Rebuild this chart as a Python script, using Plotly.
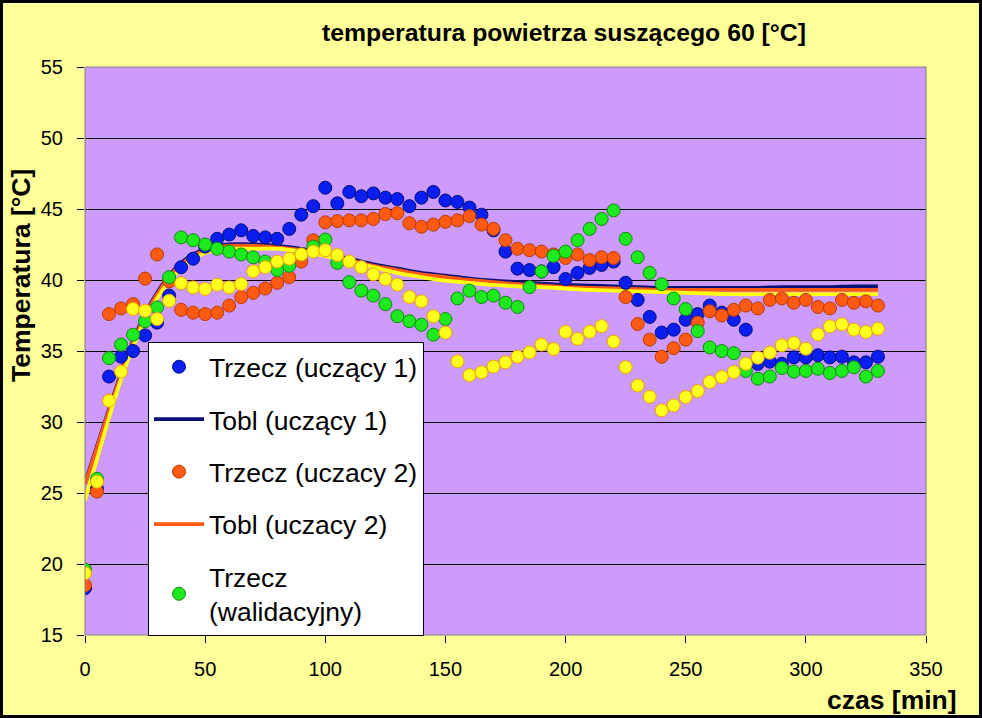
import plotly.graph_objects as go

# ---- data ----
t_pts = list(range(0, 335, 5))

trzecz_uczacy1 = [18.3, 25.3, 33.2, 34.6, 35.0, 36.1, 37.0, 38.9, 40.9, 41.5,
                  42.35, 42.9, 43.2, 43.5, 43.1, 43.0, 42.9, 43.6, 44.6, 45.2,
                  46.5, 45.4, 46.2, 45.9, 46.1, 45.8, 45.7, 45.2, 45.8, 46.2,
                  45.6, 45.5, 45.1, 44.6, 43.5, 42.0, 40.8, 40.7, 40.6, 40.9,
                  40.07, 40.5, 40.85, 41.06, 41.3, 39.8, 38.6, 37.4, 36.3, 36.5,
                  37.2, 37.6, 38.2, 37.7, 37.2, 36.5, 34.1, 34.25, 34.1, 34.55,
                  34.55, 34.7, 34.55, 34.6, 34.2, 34.2, 34.6]

trzecz_uczacy2 = [18.5, 25.1, 37.6, 38.0, 38.3, 40.1, 41.8, 39.9, 37.9, 37.7,
                  37.6, 37.7, 38.2, 38.8, 39.1, 39.4, 39.8, 40.2, 41.3, 42.8,
                  44.06, 44.15, 44.2, 44.2, 44.3, 44.65, 44.7, 44.0, 43.75, 43.9,
                  44.1, 44.2, 44.5, 43.9, 43.6, 42.8, 42.2, 42.1, 42.0, 41.8,
                  41.55, 41.8, 41.4, 41.6, 41.55, 38.8, 36.9, 35.8, 34.6, 35.2,
                  35.8, 37.0, 37.8, 37.5, 37.9, 38.2, 38.0, 38.6, 38.7, 38.4,
                  38.6, 38.1, 38.0, 38.6, 38.4, 38.5, 38.2]

trzecz_walid = [19.6, 26.0, 34.5, 35.45, 36.15, 37.1, 38.07, 40.2, 43.0, 42.8,
                42.5, 42.2, 42.0, 41.8, 41.6, 41.3, 40.7, 41.0, 41.8, 42.35,
                42.85, 41.2, 39.85, 39.25, 38.9, 38.3, 37.45, 37.1, 36.85, 36.15,
                37.25, 38.7, 39.25, 38.8, 38.9, 38.4, 38.1, 39.5, 40.6, 41.7,
                42.0, 42.8, 43.6, 44.3, 44.9, 42.9, 41.6, 40.5, 39.7, 38.7,
                37.95, 36.4, 35.25, 35.0, 34.85, 33.6, 33.05, 33.2, 33.8, 33.55,
                33.6, 33.75, 33.45, 33.6, 33.85, 33.2, 33.6]

tobl_walid_pts = [19.35, 25.8, 31.5, 33.55, 37.96, 37.84, 37.25, 38.54, 39.77, 39.48,
                  39.37, 39.67, 39.48, 39.72, 40.6, 40.9, 41.3, 41.5, 41.8, 42.0,
                  42.1, 41.76, 41.3, 40.9, 40.4, 40.07, 39.67, 38.8, 38.5, 37.44,
                  36.3, 34.27, 33.3, 33.5, 33.9, 34.2, 34.6, 34.9, 35.45, 35.14,
                  36.35, 35.85, 36.35, 36.75, 35.66, 33.86, 32.57, 31.78, 30.82, 31.17,
                  31.76, 32.18, 32.82, 33.17, 33.52, 34.1, 34.53, 34.88, 35.4, 35.56,
                  35.16, 36.17, 36.74, 36.88, 36.5, 36.34, 36.57]

t_line = [0, 5, 10, 15, 20, 25, 30, 35, 40, 45, 50, 55, 60, 70, 80, 90, 100,
          110, 120, 130, 140, 150, 160, 170, 180, 190, 200, 210, 220, 230, 240,
          250, 260, 270, 280, 290, 300, 310, 320, 330]

tobl_uczacy1 = [25.7, 28.3, 30.9, 33.4, 35.7, 37.6, 39.1, 40.3, 41.2, 41.8, 42.2,
                42.4, 42.5, 42.5, 42.4, 42.2, 41.9, 41.5, 41.1, 40.8, 40.5, 40.3,
                40.1, 39.95, 39.85, 39.75, 39.65, 39.6, 39.55, 39.5, 39.45, 39.45,
                39.45, 39.45, 39.45, 39.5, 39.5, 39.5, 39.55, 39.55]

tobl_uczacy2 = [25.6, 28.2, 30.8, 33.3, 35.6, 37.5, 39.0, 40.2, 41.1, 41.7, 42.1,
                42.3, 42.4, 42.4, 42.3, 42.1, 41.8, 41.4, 41.0, 40.7, 40.4, 40.2,
                40.0, 39.85, 39.7, 39.6, 39.5, 39.45, 39.4, 39.35, 39.3, 39.3,
                39.3, 39.3, 39.3, 39.3, 39.3, 39.3, 39.3, 39.3]

tobl_walid = [24.5, 27.4, 30.3, 33.0, 35.3, 37.2, 38.7, 39.9, 40.8, 41.5, 41.9,
              42.1, 42.2, 42.2, 42.2, 42.0, 41.7, 41.3, 40.9, 40.5, 40.2, 39.95,
              39.8, 39.65, 39.55, 39.5, 39.4, 39.3, 39.25, 39.2, 39.15, 39.1,
              39.05, 39.0, 39.0, 39.0, 39.0, 39.0, 39.0, 39.0]

x_ticks = [0, 50, 100, 150, 200, 250, 300, 350]

FONT = "Liberation Sans, Arial, sans-serif"

fig = go.Figure()


def markers(y, name, fill, edge, rank, z, show=True):
    fig.add_trace(go.Scatter(
        x=t_pts, y=y, mode="markers", name=name,
        marker=dict(size=13, color=fill, line=dict(color=edge, width=1)),
        legendgroup=name, legendrank=rank, showlegend=show, zorder=z))


def line(y, name, color, rank, z, show=True):
    fig.add_trace(go.Scatter(
        x=t_line, y=y, mode="lines", name=name, line_shape="spline",
        line=dict(color=color, width=3.8),
        legendgroup=name, legendrank=rank, showlegend=show, zorder=z))


markers(trzecz_uczacy1, "Trzecz (uczący 1)", "#0A1EF0", "#00107A", 1, 2)
line(tobl_uczacy1, "Tobl (uczący 1)", "#0A1078", 2, 1)
markers(trzecz_uczacy2, "Trzecz (uczacy 2)", "#FF5A14", "#B83A00", 3, 3)
line(tobl_uczacy2, "Tobl (uczacy 2)", "#FF5A14", 4, 1)
markers(trzecz_walid, "Trzecz<br>(walidacyjny)", "#1EE81E", "#0E8A0E", 5, 4)
markers(tobl_walid_pts, "Tobl (walidacyjny) punkty", "#FFFF1E", "#F0A000", 6, 5, show=False)
line(tobl_walid, "Tobl (walidacyjny)", "#FFFF14", 7, 1, show=False)

W, H = 982, 718
L, R, T, B = 85, 56, 67, 83
pw, ph = W - L - R, H - T - B

fig.update_layout(
    width=W, height=H, autosize=False,
    margin=dict(l=L, r=R, t=T, b=B, pad=0),
    paper_bgcolor="#FFFF99", plot_bgcolor="#CD9BFC",
    font=dict(family=FONT, color="black"),
    showlegend=True,
    legend=dict(
        x=(148 - L) / pw, y=1 - (342 - T) / ph, xanchor="left", yanchor="top",
        bgcolor="white", bordercolor="black", borderwidth=1,
        font=dict(family=FONT, size=26.5, color="black"),
        traceorder="grouped", tracegroupgap=15, itemwidth=50,
    ),
    xaxis=dict(
        range=[0, 350], tickvals=x_ticks, showgrid=False, zeroline=False,
        showline=True, linecolor="black", linewidth=1,
        ticks="outside", ticklen=7, tickcolor="black",
        tickfont=dict(family=FONT, size=20), ticklabelstandoff=9,
    ),
    yaxis=dict(
        range=[15, 55], dtick=5, showgrid=True, gridcolor="black", gridwidth=1,
        zeroline=False, showline=True, linecolor="black", linewidth=1,
        ticks="outside", ticklen=7, tickcolor="black",
        tickfont=dict(family=FONT, size=20), ticklabelstandoff=10,
    ),
    shapes=[
        dict(type="rect", xref="paper", yref="paper", x0=0, x1=1, y0=0, y1=1,
             line=dict(color="#808080", width=1), layer="above"),
        dict(type="rect", xref="paper", yref="paper",
             x0=-(L - 1.5) / pw, x1=1 + (R - 1.5) / pw,
             y0=-(B - 1.5) / ph, y1=1 + (T - 1.5) / ph,
             line=dict(color="black", width=3), layer="above"),
    ],
    annotations=[
        dict(text="<b>temperatura powietrza suszącego 60 [°C]</b>",
             xref="paper", yref="paper", x=(564 - L) / pw, y=1 + (T - 33) / ph,
             xanchor="center", yanchor="middle", showarrow=False,
             font=dict(family=FONT, size=24.8, color="black")),
        dict(text="<b>czas [min]</b>",
             xref="paper", yref="paper", x=(892 - L) / pw, y=-(700 - 635) / ph,
             xanchor="center", yanchor="middle", showarrow=False,
             font=dict(family=FONT, size=26.5, color="black")),
        dict(text="<b>Temperatura [°C]</b>", textangle=-90,
             xref="paper", yref="paper", x=(21 - L) / pw, y=1 - (276 - T) / ph,
             xanchor="center", yanchor="middle", showarrow=False,
             font=dict(family=FONT, size=26.5, color="black")),
    ],
)

fig.write_html("out.html")
